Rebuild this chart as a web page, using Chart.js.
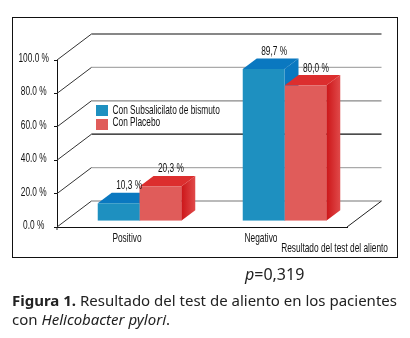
<!DOCTYPE html>
<html lang="es">
<head>
<meta charset="utf-8">
<title>Figura 1</title>
<script src="https://cdn.jsdelivr.net/npm/chart.js@4/dist/chart.umd.min.js"></script>
<style>
    html, body { margin: 0; padding: 0; background: #fff; }
    body { position: relative; width: 410px; height: 338px; overflow: hidden; }
    #marco { position: absolute; left: 12px; top: 17px; width: 384px; height: 239px; border: 1.5px solid #111; }
    #grafico { position: absolute; left: 0; top: 0; }
    .texto { position: absolute; white-space: nowrap; color: #222; font-family: "Noto Sans", sans-serif; }
</style>
</head>
<body>
<div id="marco"></div>
<canvas id="grafico" width="410" height="338"></canvas>
<div class="texto" style="left:245px;top:263px;font-size:16px"><i>p</i>=0,319</div>
<div class="texto" style="left:12px;top:290px;font-size:15px"><b>Figura 1.</b> Resultado del test de aliento en los pacientes</div>
<div class="texto" style="left:12px;top:309px;font-size:15px">con <i>Helicobacter pylori</i>.</div>
<script>
var categorias = ['Positivo', 'Negativo'];
var subsalicilato = [10.3, 89.7];
var placebo = [20.3, 80.0];
var etiquetasSub = ['10,3 %', '89,7 %'];
var etiquetasPlacebo = ['20,3 %', '80,0 %'];
var tituloEje = 'Resultado del test del aliento';
var coloresRejilla = { 0: '#777', 20: '#aaa', 40: '#111', 60: '#888', 80: '#aaa', 100: '#111' };

var fondoX = 34.5, fondoY = 26;   // profundidad de la caja
var barraX = 14, barraY = 10.5;   // profundidad de cada barra
var despX = 10, despY = -6.3;     // las barras van algo metidas en la caja
var ajusteCategoria = [-2.5, -13.5];

// no hay fuente estrecha instalada, asi que se comprime a mano
function textoEstrecho(ctx, texto, x, y) {
    ctx.save();
    ctx.translate(x, y);
    ctx.scale(0.64, 1);
    ctx.fillText(texto, 0, 0);
    ctx.restore();
}

var tresD = {
    id: 'tresD',
    beforeDatasetsDraw: function (chart) {
        var ctx = chart.ctx, y = chart.scales.y, a = chart.chartArea;
        ctx.save();
        Object.keys(coloresRejilla).forEach(function (v) {
            var py = y.getPixelForValue(Number(v));
            ctx.strokeStyle = coloresRejilla[v];
            ctx.lineWidth = 1.2;
            ctx.beginPath();
            ctx.moveTo(a.left + fondoX, py - fondoY);
            ctx.lineTo(a.right + fondoX, py - fondoY);
            ctx.stroke();
            ctx.strokeStyle = '#333';
            ctx.lineWidth = 1;
            ctx.beginPath();
            ctx.moveTo(a.left, py);
            ctx.lineTo(a.left + fondoX, py - fondoY);
            ctx.stroke();
        });
        ctx.strokeStyle = '#222';
        ctx.beginPath();
        ctx.moveTo(a.right, a.bottom);
        ctx.lineTo(a.right + fondoX, a.bottom - fondoY);
        ctx.moveTo(a.left, a.bottom);
        ctx.lineTo(a.left, a.bottom + 3);
        ctx.stroke();
        ctx.restore();

        ctx.save();
        ctx.translate(despX, despY);
        // caras laterales y superiores, primero azul y luego rojo
        chart.data.datasets.forEach(function (ds, i) {
            chart.getDatasetMeta(i).data.forEach(function (b) {
                var der = b.x + b.width / 2, izq = b.x - b.width / 2;
                var g = ctx.createLinearGradient(der, 0, der + barraX, 0);
                g.addColorStop(0, ds.ladoA);
                g.addColorStop(1, ds.ladoB);
                ctx.fillStyle = g;
                ctx.beginPath();
                ctx.moveTo(der, b.y);
                ctx.lineTo(der + barraX, b.y - barraY);
                ctx.lineTo(der + barraX, b.base - barraY);
                ctx.lineTo(der, b.base);
                ctx.closePath();
                ctx.fill();
                ctx.fillStyle = ds.tapa;
                ctx.beginPath();
                ctx.moveTo(izq, b.y);
                ctx.lineTo(izq + barraX, b.y - barraY);
                ctx.lineTo(der + barraX, b.y - barraY);
                ctx.lineTo(der, b.y);
                ctx.closePath();
                ctx.fill();
            });
        });
    },
    afterDatasetsDraw: function (chart) {
        var ctx = chart.ctx, a = chart.chartArea, y = chart.scales.y;
        ctx.restore();
        ctx.save();
        ctx.font = '13px "Liberation Sans", sans-serif';
        ctx.fillStyle = '#111';
        ctx.textBaseline = 'middle';
        ctx.textAlign = 'center';
        y.ticks.forEach(function (t) {
            textoEstrecho(ctx, t.value.toFixed(1) + ' %', 33.7, y.getPixelForValue(t.value) - 1.5);
        });
        chart.data.datasets.forEach(function (ds, i) {
            chart.getDatasetMeta(i).data.forEach(function (b, j) {
                textoEstrecho(ctx, ds.etiquetas[j], b.x + despX + 10.5, b.y + despY - 17.5);
            });
        });
        categorias.forEach(function (c, i) {
            textoEstrecho(ctx, c, chart.scales.x.getPixelForValue(i) + ajusteCategoria[i], a.bottom + 11);
        });
        ctx.textAlign = 'right';
        textoEstrecho(ctx, tituloEje, 388, 248);
        // leyenda dentro de la caja
        ctx.textAlign = 'left';
        chart.data.datasets.forEach(function (ds, i) {
            ctx.fillStyle = ds.backgroundColor;
            ctx.fillRect(96, 105 + i * 14, 12, 11);
            ctx.fillStyle = '#111';
            textoEstrecho(ctx, ds.label, 112.5, 110.5 + i * 11.5);
        });
        ctx.restore();
    }
};

new Chart(document.getElementById('grafico').getContext('2d'), {
    type: 'bar',
    data: {
        labels: categorias,
        datasets: [
            { label: 'Con Subsalicilato de bismuto', data: subsalicilato, etiquetas: etiquetasSub, yAxisID: 'yBarras',
              backgroundColor: '#1e90c0', tapa: '#0a78c0', ladoA: '#0a78c0', ladoB: '#0a78c0' },
            { label: 'Con Placebo', data: placebo, etiquetas: etiquetasPlacebo, yAxisID: 'yBarras',
              backgroundColor: '#e05c5a', tapa: '#dc2e2e', ladoA: '#cc1518', ladoB: '#e04a4a' }
        ]
    },
    options: {
        responsive: false,
        animation: false,
        events: [],
        layout: { padding: { left: 13, right: 63, top: 60, bottom: 111 } },
        categoryPercentage: 0.576,
        barPercentage: 1,
        plugins: { legend: { display: false }, tooltip: { enabled: false } },
        scales: {
            x: {
                afterFit: function (s) { s.height = 0; },
                ticks: { display: false },
                grid: { display: false },
                border: { display: true, color: '#111', width: 1 }
            },
            y: {
                min: 0,
                max: 100,
                afterFit: function (s) { s.width = 44; },
                ticks: { stepSize: 20, display: false },
                grid: { drawOnChartArea: false, color: '#111', tickLength: 3 },
                border: { display: true, color: '#111', width: 1 }
            },
            yBarras: { display: false, min: 0, max: 98.8 }
        }
    },
    plugins: [tresD]
});
</script>
</body>
</html>
